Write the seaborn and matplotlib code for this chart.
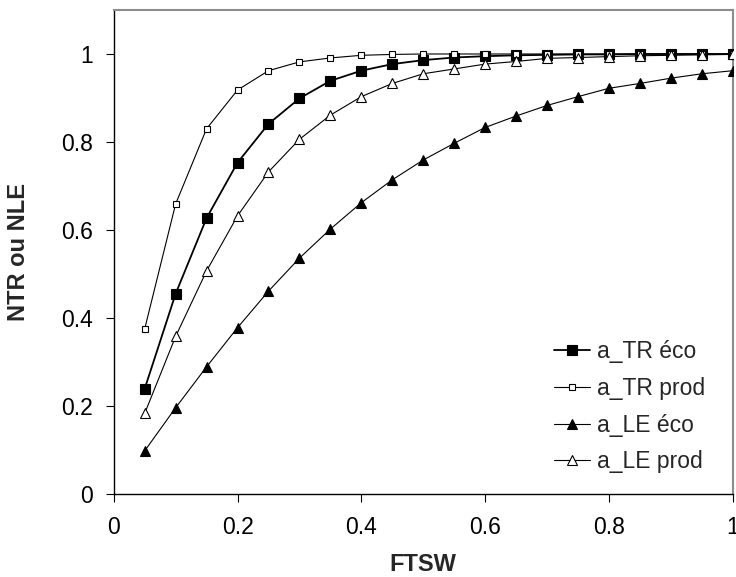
import matplotlib
matplotlib.use("Agg")
import matplotlib.pyplot as plt
import seaborn as sns

# FTSW values (x) and the four response curves
ftsw = [0.05, 0.10, 0.15, 0.20, 0.25, 0.30, 0.35, 0.40, 0.45, 0.50,
        0.55, 0.60, 0.65, 0.70, 0.75, 0.80, 0.85, 0.90, 0.95, 1.00]

tr_eco = [0.239, 0.455, 0.627, 0.753, 0.841, 0.899, 0.939, 0.962, 0.977, 0.986,
          0.992, 0.995, 0.997, 0.998, 0.999, 0.999, 1.000, 1.000, 1.000, 1.000]
tr_prod = [0.375, 0.659, 0.830, 0.918, 0.962, 0.982, 0.991, 0.997, 0.999, 1.000,
           1.000, 1.000, 1.000, 1.000, 1.000, 1.000, 1.000, 1.000, 1.000, 1.000]
le_eco = [0.098, 0.196, 0.289, 0.378, 0.461, 0.536, 0.602, 0.662, 0.714, 0.759,
          0.797, 0.833, 0.859, 0.883, 0.903, 0.922, 0.933, 0.945, 0.955, 0.962]
le_prod = [0.183, 0.358, 0.507, 0.632, 0.732, 0.806, 0.861, 0.903, 0.933, 0.955,
           0.966, 0.977, 0.983, 0.990, 0.992, 0.994, 0.996, 0.997, 0.998, 0.999]

labels = ["a_TR éco", "a_TR prod", "a_LE éco", "a_LE prod"]
x_ticks = [0, 0.2, 0.4, 0.6, 0.8, 1]
x_ticklabels = ["0", "0.2", "0.4", "0.6", "0.8", "1"]
y_ticks = [0, 0.2, 0.4, 0.6, 0.8, 1]
y_ticklabels = ["0", "0.2", "0.4", "0.6", "0.8", "1"]

sns.set_style("ticks")
plt.rcParams["font.family"] = ["Liberation Sans", "DejaVu Sans"]

fig = plt.figure(figsize=(7.36, 5.77), dpi=100)
ax = fig.add_axes([0.1545, 0.1438, 0.841, 0.8389])

# (series, marker, face colour, marker size, line width)
styles = [
    (tr_eco,  "s", "black", 7.0, 1.3),
    (tr_prod, "s", "white", 4.6, 0.8),
    (le_eco,  "^", "black", 7.8, 0.8),
    (le_prod, "^", "white", 7.8, 0.8),
]

for (vals, mk, fc, ms, lw), lab in zip(styles, labels):
    sns.lineplot(x=ftsw, y=vals, ax=ax, color="black", lw=lw,
                 marker=mk, markersize=ms, markerfacecolor=fc,
                 markeredgecolor="black", markeredgewidth=0.8,
                 label=lab, zorder=3)

ax.set_xlim(0, 1)
ax.set_ylim(0, 1.1)
ax.set_xticks(x_ticks)
ax.set_xticklabels(x_ticklabels)
ax.set_yticks(y_ticks)
ax.set_yticklabels(y_ticklabels)
ax.tick_params(axis="both", labelsize=16.5, colors="black", direction="out",
               length=6, width=0.8)
ax.tick_params(axis="x", pad=10)
ax.tick_params(axis="y", pad=9)

for side in ["left", "bottom"]:
    ax.spines[side].set_color("black")
    ax.spines[side].set_linewidth(1.0)
for side in ["top", "right"]:
    ax.spines[side].set_visible(True)
    ax.spines[side].set_color("#8c8c8c")
    ax.spines[side].set_linewidth(1.5)

ax.set_xlabel("FTSW", fontsize=17, fontweight="bold")
ax.set_ylabel("NTR ou NLE", fontsize=17, fontweight="bold")
ax.xaxis.label.set_va("center")
ax.yaxis.label.set_va("center")
ax.xaxis.set_label_coords(0.5, -0.146)
ax.yaxis.set_label_coords(-0.154, 0.5)

ax.legend(loc="upper left", bbox_to_anchor=(0.697, 0.337), frameon=False,
          fontsize=16.5, handlelength=1.55, handletextpad=0.3,
          labelspacing=0.6, borderaxespad=0)

fig.savefig("out.png", dpi=100)
plt.close()
